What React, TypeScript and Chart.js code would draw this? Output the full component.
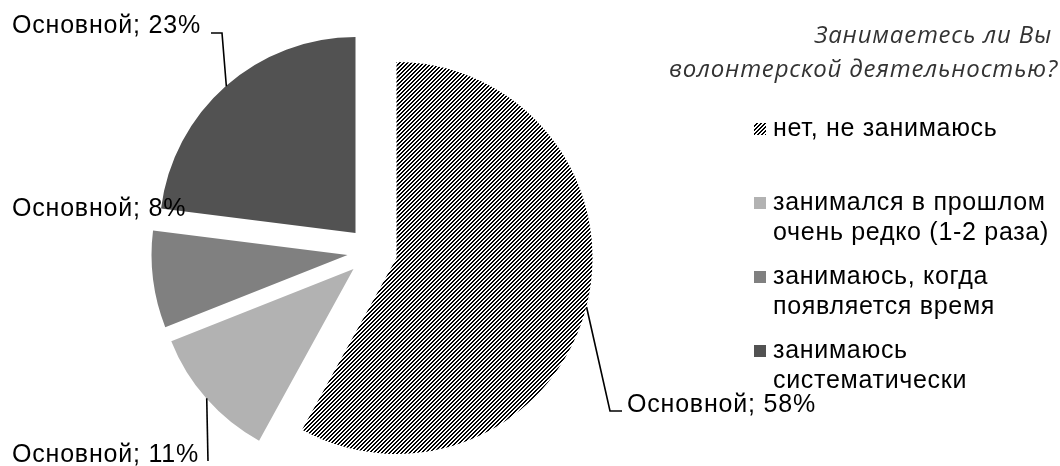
import React, { useEffect, useRef } from "react";
import { Chart, registerables } from "chart.js";

Chart.register(...registerables);

const seriesName = "Основной";
const categories: string[][] = [
  ["нет, не занимаюсь"],
  ["занимался в прошлом", "очень редко (1-2 раза)"],
  ["занимаюсь, когда", "появляется время"],
  ["занимаюсь", "систематически"],
];
const values = [58, 11, 8, 23];
const titleLines = ["Занимаетесь ли Вы", "волонтерской деятельностью?"];

const sliceColors = ["hatch", "#b2b2b2", "#808080", "#525252"];

const W = 1060;
const H = 466;
const EXPLODE = 25;
const RADIUS = 196;

// label placement (layout only): text left x, baseline y, leader elbow points
const labelLayout: { x: number; y: number; leader: number[][] | null }[] = [
  { x: 627, y: 412, leader: [[610, 411], [622, 411]] },
  { x: 12, y: 462, leader: [[208, 461]] },
  { x: 12, y: 216, leader: null },
  { x: 12, y: 33, leader: [[222, 33], [211, 33]] },
];

function makeHatch(ctx: CanvasRenderingContext2D): CanvasPattern | string {
  const c = document.createElement("canvas");
  c.width = 4;
  c.height = 4;
  const g = c.getContext("2d");
  if (!g) return "#555";
  g.fillStyle = "#ffffff";
  g.fillRect(0, 0, 4, 4);
  g.fillStyle = "#000000";
  for (let y = 0; y < 4; y++) {
    const x0 = (3 - y + 4) % 4;
    g.fillRect(x0, y, 1, 1);
    g.fillRect((x0 + 1) % 4, y, 1, 1);
  }
  return ctx.createPattern(c, "repeat") || "#555";
}

export default function App() {
  const ref = useRef<HTMLCanvasElement | null>(null);

  useEffect(() => {
    const canvas = ref.current;
    if (!canvas) return;
    const ctx0 = canvas.getContext("2d") as CanvasRenderingContext2D;
    const hatch = makeHatch(ctx0);
    const fills = sliceColors.map((c) => (c === "hatch" ? hatch : c));

    const plugin = {
      id: "explodedPieDecor",
      beforeDatasetDraw(chart: any, args: any) {
        const ctx: CanvasRenderingContext2D = chart.ctx;
        args.meta.data.forEach((arc: any) => {
          const mid = (arc.startAngle + arc.endAngle) / 2;
          ctx.save();
          ctx.translate(Math.round(Math.cos(mid) * EXPLODE), Math.round(Math.sin(mid) * EXPLODE));
          arc.draw(ctx);
          ctx.restore();
        });
        return false;
      },
      afterDatasetsDraw(chart: any) {
        const ctx: CanvasRenderingContext2D = chart.ctx;
        const meta = chart.getDatasetMeta(0);
        ctx.save();
        // data labels + leader lines
        ctx.font = "25px 'Liberation Sans', Arial, sans-serif";
        (ctx as any).letterSpacing = "0.8px";
        ctx.fillStyle = "#000";
        ctx.textBaseline = "alphabetic";
        ctx.textAlign = "left";
        meta.data.forEach((arc: any, i: number) => {
          const mid = (arc.startAngle + arc.endAngle) / 2;
          const ex = arc.x + Math.cos(mid) * (EXPLODE + arc.outerRadius);
          const ey = arc.y + Math.sin(mid) * (EXPLODE + arc.outerRadius);
          const lay = labelLayout[i];
          if (lay.leader) {
            ctx.beginPath();
            ctx.strokeStyle = "#000";
            ctx.lineWidth = 1.6;
            ctx.moveTo(ex, ey);
            lay.leader.forEach((p) => ctx.lineTo(p[0], p[1]));
            ctx.stroke();
          }
          ctx.fillText(`${seriesName}; ${values[i]}%`, lay.x, lay.y);
        });

        // title
        ctx.font = "italic 24px 'Open Sans', sans-serif";
        (ctx as any).letterSpacing = "0.8px";
        ctx.fillStyle = "#333";
        ctx.textAlign = "right";
        ctx.fillText(titleLines[0], 1052, 43);
        ctx.fillText(titleLines[1], 1058, 77);

        // legend
        ctx.textAlign = "left";
        ctx.font = "25px 'Liberation Sans', Arial, sans-serif";
        (ctx as any).letterSpacing = "0.7px";
        const first = 136;
        const step = 74;
        const lineH = 29.5;
        categories.forEach((lines, i) => {
          const by = first + i * step;
          ctx.fillStyle = fills[i] as any;
          ctx.fillRect(754, by - 13, 12, 12);
          ctx.fillStyle = "#000";
          lines.forEach((t, j) => ctx.fillText(t, 773, by + j * lineH));
        });
        ctx.restore();
      },
    };

    const chart = new Chart(canvas, {
      type: "pie",
      data: {
        labels: categories,
        datasets: [
          {
            label: seriesName,
            data: values,
            backgroundColor: fills as any,
            borderWidth: 0,
          },
        ],
      },
      options: {
        responsive: false,
        animation: false,
        radius: RADIUS,
        layout: { padding: { left: 0, right: 315, top: 38, bottom: 0 } },
        plugins: {
          legend: { display: false },
          tooltip: { enabled: false },
          title: { display: false },
        },
      } as any,
      plugins: [plugin as any],
    });
    return () => chart.destroy();
  }, []);

  return (
    <div style={{ position: "absolute", left: 0, top: 0, width: W, height: H, background: "#fff" }}>
      <canvas ref={ref} width={W} height={H} style={{ display: "block", width: W, height: H }} />
    </div>
  );
}
